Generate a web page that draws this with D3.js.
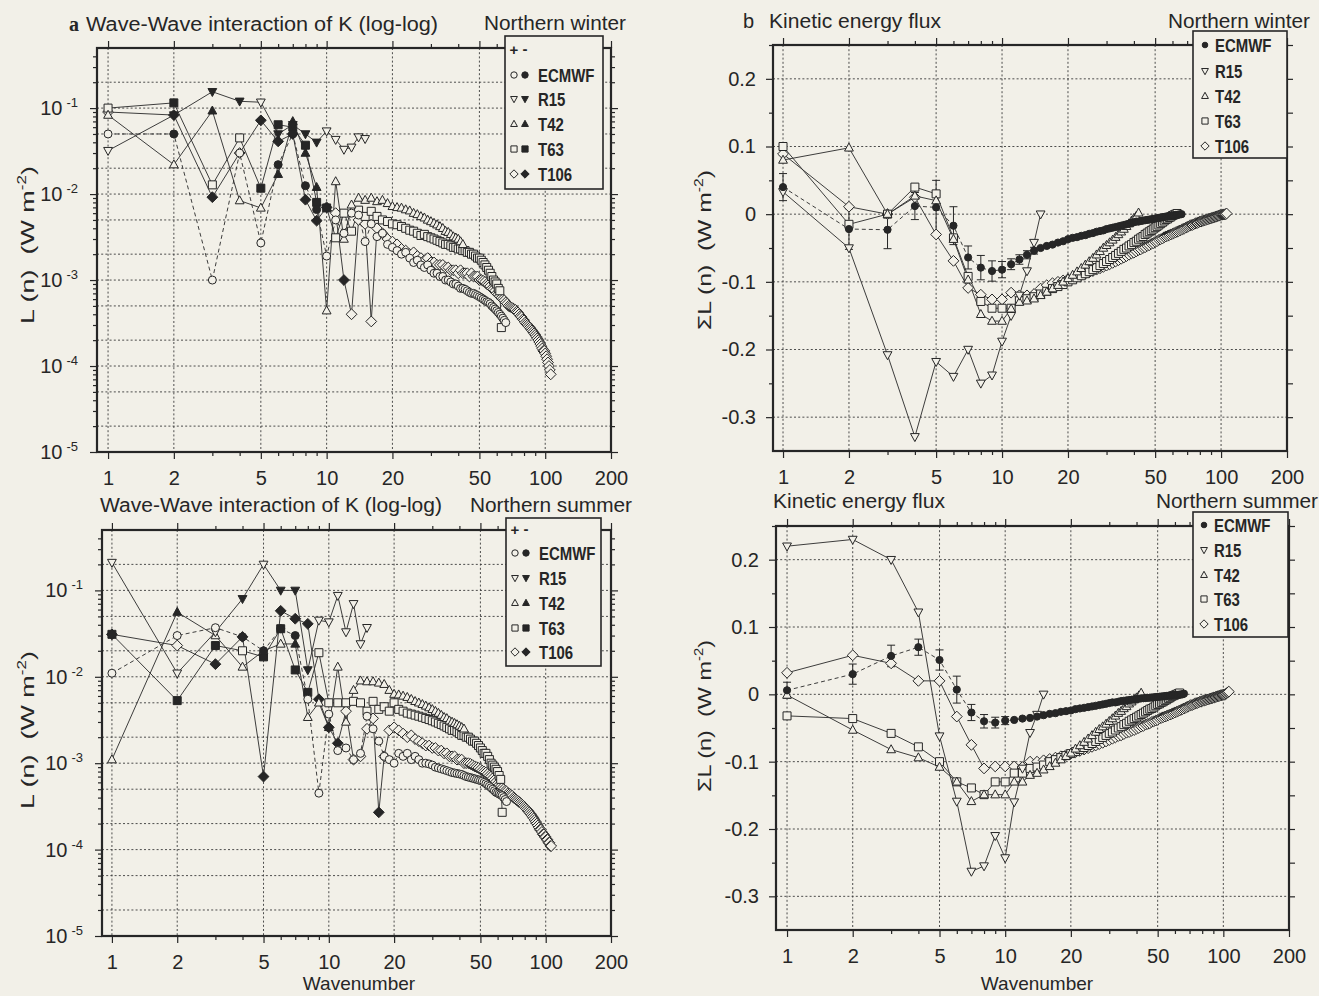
<!DOCTYPE html>
<html>
<head>
<meta charset="utf-8">
<script src="https://cdn.jsdelivr.net/npm/d3@7"></script>
<style>
  body { margin: 0; background: #f2f0e8; }
  svg { display: block; }
</style>
</head>
<body>
<svg id="fig" width="1319" height="996"></svg>
<script>
// values per wavenumber, index 0 is n = 1
// log-log panels keep the sign: negative values are drawn as |L| with a filled marker
const winterLogEcmwf = [0.05, -0.05, 0.001, 0.03, 0.0027, -0.022, -0.05, -0.0125, -0.0066, 0.0019,
  0.005, 0.0035, 0.006, 0.0057, 0.0028, 0.0045, 0.0032, 0.0035, 0.0026, 0.0024,
  0.0022, 0.002, 0.0021, 0.0018, 0.0016, 0.0017, 0.0015, 0.0014, 0.0015, 0.0013,
  0.0012, 0.0012, 0.0011, 0.0011, 0.001, 0.001, 0.00095, 0.0009, 0.0009, 0.00085,
  0.0008, 0.0008, 0.00078, 0.00075, 0.00072, 0.0007, 0.0007, 0.00068, 0.00066, 0.00064,
  0.00062, 0.0006, 0.00058, 0.00056, 0.00055, 0.00053, 0.0005, 0.00048, 0.00046, 0.00044,
  0.00042, 0.0004, 0.00038, 0.00036, 0.00034, 0.00032];
const winterLogR15 = [0.032, -0.083, -0.155, -0.12, 0.117, -0.05, -0.064, -0.05, -0.04, 0.054,
  0.043, 0.033, 0.035, 0.046, 0.044];
const winterLogT42 = [0.083, 0.022, -0.093, 0.0084, 0.0069, -0.017, -0.07, -0.03, -0.012, 0.00044,
  0.014, 0.003, 0.0075, 0.009, 0.0085, 0.009, 0.0082, 0.0085, 0.0078, 0.0072,
  0.007, 0.0069, 0.0066, 0.0064, 0.006, 0.0058, 0.0055, 0.0053, 0.005, 0.0048,
  0.0046, 0.0044, 0.0042, 0.004, 0.0037, 0.0036, 0.0034, 0.0032, 0.0031, 0.003,
  0.0028, 0.0026];
const winterLogT63 = [0.1, -0.115, 0.0128, 0.045, -0.0117, -0.064, -0.06, -0.037, -0.008, -0.0069,
  0.0031, 0.006, 0.0037, 0.0065, 0.0055, 0.0063, 0.0055, 0.005, 0.0048, 0.0045,
  0.0044, 0.0042, 0.004, 0.0038, 0.0037, 0.0035, 0.0033, 0.0034, 0.0032, 0.0031,
  0.003, 0.0029, 0.0028, 0.0027, 0.0026, 0.0026, 0.0025, 0.0024, 0.0024, 0.0023,
  0.0023, 0.0022, 0.0022, 0.0021, 0.0021, 0.002, 0.002, 0.0019, 0.0018, 0.0018,
  0.0017, 0.0016, 0.0015, 0.0014, 0.0013, 0.0012, 0.0011, 0.001, 0.00095, 0.0009,
  0.0008, 0.00075, 0.00028];
const winterLogT106 = [0.09, -0.083, -0.0092, 0.03, -0.072, -0.041, -0.05, -0.0086, -0.0049, -0.007,
  0.006, -0.001, 0.0004, 0.005, 0.0045, 0.00033, 0.004, 0.0035, 0.003, 0.0028,
  0.0026, 0.0023, 0.0022, 0.002, 0.0021, 0.0019, 0.0018, 0.0017, 0.0018, 0.0016,
  0.0016, 0.0015, 0.0015, 0.0015, 0.0014, 0.0014, 0.0013, 0.0013, 0.0013, 0.0012,
  0.0013, 0.0012, 0.0012, 0.0012, 0.0011, 0.0012, 0.0011, 0.0011, 0.0011, 0.001,
  0.001, 0.00098, 0.00095, 0.0009, 0.00088, 0.00085, 0.0008, 0.00078, 0.00075, 0.0007,
  0.00068, 0.00065, 0.00062, 0.0006, 0.00058, 0.00055, 0.00053, 0.0005, 0.00049, 0.00048,
  0.00047, 0.00046, 0.00045, 0.00043, 0.00042, 0.0004, 0.00038, 0.00037, 0.00035, 0.00034,
  0.00032, 0.00031, 0.0003, 0.00029, 0.00028, 0.00027, 0.00026, 0.00025, 0.00024, 0.00023,
  0.00022, 0.00021, 0.0002, 0.00019, 0.00018, 0.00017, 0.00016, 0.00015, 0.00015, 0.00014,
  0.00013, 0.00012, 0.00011, 0.0001, 0.00009, 0.00008];

const summerLogEcmwf = [0.011, 0.03, 0.037, -0.029, -0.02, -0.036, -0.03, 0.0055, 0.00045, 0.0037,
  0.0014, 0.0015, 0.0011, 0.0013, 0.0035, 0.0025, 0.0018, 0.0012, 0.0011, 0.001,
  0.0013, 0.0012, 0.0013, 0.0011, 0.0012, 0.0011, 0.001, 0.001, 0.00098, 0.00095,
  0.0009, 0.00088, 0.00086, 0.00084, 0.00082, 0.0008, 0.00078, 0.00077, 0.00076, 0.00075,
  0.00074, 0.00072, 0.0007, 0.00069, 0.00068, 0.00067, 0.00066, 0.00065, 0.00064, 0.00063,
  0.00062, 0.0006, 0.00058, 0.00056, 0.00054, 0.00052, 0.0005, 0.00048, 0.00046, 0.00045,
  0.00044, 0.00043, 0.00042, 0.0004, 0.00038, 0.00036];
const summerLogR15 = [0.21, 0.011, 0.033, -0.08, 0.2, -0.1, -0.1, -0.012, 0.045, 0.043,
  0.087, 0.033, 0.07, 0.024, 0.037];
const summerLogT42 = [0.0011, -0.056, 0.03, 0.013, 0.02, 0.024, -0.024, 0.0034, 0.005, -0.0026,
  0.013, 0.003, 0.007, 0.009, 0.0088, 0.0088, 0.0085, 0.0082, 0.007, 0.0063,
  0.0062, 0.006, 0.0058, 0.0055, 0.0052, 0.005, 0.0048, 0.0046, 0.0044, 0.0042,
  0.004, 0.0038, 0.0036, 0.0034, 0.0033, 0.0031, 0.003, 0.0029, 0.0028, 0.0027,
  0.0026, 0.0025];
const summerLogT63 = [-0.031, -0.0053, -0.023, 0.02, -0.017, -0.036, -0.012, -0.0066, 0.019, 0.005,
  0.005, 0.005, 0.0052, 0.005, 0.004, 0.0052, 0.0042, 0.0045, 0.004, 0.005,
  0.0042, 0.004, 0.0038, 0.0037, 0.0036, 0.0035, 0.0034, 0.0033, 0.0032, 0.0031,
  0.003, 0.0029, 0.0028, 0.0027, 0.0026, 0.0025, 0.0024, 0.0024, 0.0023, 0.0022,
  0.0021, 0.0021, 0.002, 0.002, 0.0019, 0.0018, 0.0018, 0.0017, 0.0016, 0.0015,
  0.0014, 0.0013, 0.0013, 0.0012, 0.0011, 0.001, 0.00095, 0.0009, 0.00085, 0.0008,
  0.00072, 0.00065, 0.00027];
const summerLogT106 = [-0.031, 0.023, -0.014, -0.029, -0.0007, -0.058, -0.047, -0.041, -0.0055, -0.0026,
  -0.0017, 0.004, 0.0011, 0.0012, 0.0025, 0.0033, -0.00027, 0.0012, 0.0024, 0.0026,
  0.0024, 0.0022, 0.002, 0.0021, 0.0019, 0.0018, 0.0017, 0.0016, 0.0016, 0.0015,
  0.0015, 0.0014, 0.0014, 0.0013, 0.0013, 0.0012, 0.0012, 0.0012, 0.0011, 0.0011,
  0.0011, 0.001, 0.001, 0.001, 0.00098, 0.00095, 0.00092, 0.0009, 0.00088, 0.00085,
  0.00082, 0.0008, 0.00078, 0.00075, 0.00072, 0.0007, 0.00067, 0.00064, 0.00061, 0.00058,
  0.00056, 0.00054, 0.00052, 0.0005, 0.00048, 0.00047, 0.00045, 0.00044, 0.00043, 0.00042,
  0.0004, 0.00039, 0.00038, 0.00037, 0.00036, 0.00035, 0.00034, 0.00033, 0.00032, 0.00031,
  0.0003, 0.00029, 0.00028, 0.00027, 0.00026, 0.00025, 0.00024, 0.00023, 0.00022, 0.00021,
  0.0002, 0.00019, 0.00018, 0.00017, 0.00017, 0.00016, 0.00015, 0.00015, 0.00014, 0.00014,
  0.00013, 0.00013, 0.00012, 0.00012, 0.00011, 0.00011];

// cumulative kinetic energy flux (W m-2)
const winterFluxEcmwf = [0.04, -0.022, -0.023, 0.012, 0.01, -0.017, -0.064, -0.079, -0.084, -0.082,
  -0.074, -0.067, -0.06, -0.054, -0.05, -0.047, -0.045, -0.042, -0.04, -0.037,
  -0.035, -0.034, -0.032, -0.031, -0.029, -0.028, -0.026, -0.025, -0.024, -0.022,
  -0.021, -0.02, -0.019, -0.018, -0.017, -0.016, -0.015, -0.014, -0.013, -0.012,
  -0.011, -0.011, -0.01, -0.0095, -0.009, -0.0085, -0.008, -0.0075, -0.007, -0.0065,
  -0.006, -0.0055, -0.005, -0.0045, -0.004, -0.0036, -0.0032, -0.0028, -0.0024, -0.002,
  -0.0016, -0.0012, -0.0009, -0.0006, -0.0003, 0.0];
const winterFluxEcmwfErr = [0.02, 0.03, 0.028, 0.02, 0.04, 0.028, 0.017, 0.018, 0.015, 0.012,
  0.008, 0.007, 0.006, 0.005];
const winterFluxR15 = [0.033, -0.05, -0.208, -0.329, -0.218, -0.24, -0.2, -0.25, -0.238, -0.188,
  -0.15, -0.12, -0.084, -0.042, 0.0];
const winterFluxT42 = [0.08, 0.098, 0.0, 0.027, 0.02, -0.037, -0.097, -0.148, -0.158, -0.158,
  -0.14, -0.13, -0.128, -0.125, -0.12, -0.115, -0.11, -0.105, -0.1, -0.095,
  -0.09, -0.085, -0.08, -0.075, -0.07, -0.065, -0.06, -0.055, -0.05, -0.046,
  -0.042, -0.038, -0.034, -0.03, -0.026, -0.022, -0.018, -0.014, -0.01, -0.006,
  -0.003, 0.002];
const winterFluxT63 = [0.1, -0.015, 0.0, 0.04, 0.03, -0.035, -0.092, -0.129, -0.139, -0.139,
  -0.139, -0.128, -0.125, -0.122, -0.118, -0.114, -0.11, -0.107, -0.104, -0.1,
  -0.097, -0.094, -0.091, -0.088, -0.085, -0.082, -0.079, -0.076, -0.073, -0.07,
  -0.067, -0.064, -0.061, -0.058, -0.055, -0.052, -0.05, -0.047, -0.045, -0.042,
  -0.04, -0.037, -0.035, -0.033, -0.03, -0.028, -0.026, -0.024, -0.022, -0.02,
  -0.018, -0.016, -0.014, -0.012, -0.01, -0.008, -0.007, -0.005, -0.004, -0.002,
  -0.001, 0.0, 0.001];
const winterFluxT106 = [0.089, 0.011, 0.0, 0.025, -0.03, -0.069, -0.109, -0.119, -0.126, -0.126,
  -0.116, -0.12, -0.12, -0.118, -0.11, -0.105, -0.102, -0.1, -0.098, -0.096,
  -0.094, -0.092, -0.09, -0.088, -0.086, -0.084, -0.082, -0.08, -0.078, -0.076,
  -0.074, -0.072, -0.07, -0.068, -0.066, -0.064, -0.062, -0.06, -0.058, -0.057,
  -0.055, -0.053, -0.052, -0.05, -0.049, -0.047, -0.046, -0.044, -0.043, -0.041,
  -0.04, -0.038, -0.037, -0.036, -0.034, -0.033, -0.032, -0.031, -0.03, -0.029,
  -0.028, -0.027, -0.026, -0.025, -0.024, -0.023, -0.022, -0.021, -0.02, -0.019,
  -0.018, -0.017, -0.016, -0.016, -0.015, -0.014, -0.013, -0.013, -0.012, -0.011,
  -0.011, -0.01, -0.0095, -0.009, -0.0085, -0.008, -0.0075, -0.007, -0.0065, -0.006,
  -0.0055, -0.005, -0.0045, -0.004, -0.0035, -0.003, -0.0025, -0.002, -0.0015, -0.001,
  -0.0008, -0.0006, -0.0004, -0.0002, 0.0, 0.001];

const summerFluxEcmwf = [0.006, 0.03, 0.057, 0.07, 0.051, 0.007, -0.027, -0.04, -0.042, -0.039,
  -0.038, -0.036, -0.035, -0.033, -0.031, -0.029, -0.028, -0.026, -0.025, -0.024,
  -0.022, -0.021, -0.02, -0.019, -0.018, -0.017, -0.016, -0.015, -0.014, -0.013,
  -0.012, -0.012, -0.011, -0.01, -0.0095, -0.009, -0.0085, -0.008, -0.0075, -0.007,
  -0.0065, -0.006, -0.0058, -0.0055, -0.0052, -0.005, -0.0047, -0.0044, -0.0041, -0.0038,
  -0.0035, -0.0032, -0.003, -0.0027, -0.0024, -0.0021, -0.0018, -0.0015, -0.0012, -0.001,
  -0.0008, -0.0006, -0.0004, -0.0002, 0.0, 0.001];
const summerFluxEcmwfErr = [0.012, 0.015, 0.016, 0.012, 0.015, 0.02, 0.012, 0.01, 0.008, 0.006];
const summerFluxR15 = [0.22, 0.23, 0.2, 0.122, -0.062, -0.159, -0.263, -0.255, -0.21, -0.243,
  -0.16, -0.11, -0.057, -0.03, 0.0];
const summerFluxT42 = [-0.001, -0.053, -0.082, -0.094, -0.108, -0.13, -0.159, -0.149, -0.149, -0.149,
  -0.13, -0.13, -0.12, -0.117, -0.112, -0.107, -0.102, -0.097, -0.092, -0.087,
  -0.081, -0.076, -0.071, -0.066, -0.061, -0.056, -0.052, -0.048, -0.044, -0.04,
  -0.036, -0.032, -0.028, -0.025, -0.021, -0.018, -0.014, -0.011, -0.008, -0.005,
  -0.002, 0.002];
const summerFluxT63 = [-0.032, -0.036, -0.058, -0.078, -0.1, -0.13, -0.139, -0.149, -0.13, -0.13,
  -0.117, -0.117, -0.11, -0.108, -0.105, -0.1, -0.097, -0.094, -0.091, -0.088,
  -0.085, -0.082, -0.079, -0.076, -0.073, -0.07, -0.067, -0.064, -0.061, -0.058,
  -0.056, -0.053, -0.05, -0.048, -0.045, -0.043, -0.04, -0.038, -0.036, -0.034,
  -0.032, -0.03, -0.028, -0.026, -0.024, -0.022, -0.021, -0.019, -0.017, -0.015,
  -0.014, -0.012, -0.011, -0.009, -0.008, -0.006, -0.005, -0.003, -0.002, -0.001,
  0.0, 0.001, 0.002];
const summerFluxT106 = [0.032, 0.058, 0.046, 0.02, 0.02, -0.033, -0.075, -0.11, -0.107, -0.107,
  -0.107, -0.108, -0.1, -0.1, -0.098, -0.096, -0.094, -0.092, -0.09, -0.088,
  -0.086, -0.084, -0.082, -0.08, -0.078, -0.076, -0.074, -0.072, -0.07, -0.068,
  -0.066, -0.064, -0.062, -0.061, -0.059, -0.057, -0.056, -0.054, -0.053, -0.051,
  -0.05, -0.048, -0.047, -0.045, -0.044, -0.043, -0.041, -0.04, -0.039, -0.038,
  -0.036, -0.035, -0.034, -0.033, -0.032, -0.031, -0.03, -0.029, -0.028, -0.027,
  -0.026, -0.025, -0.024, -0.023, -0.022, -0.021, -0.02, -0.019, -0.018, -0.017,
  -0.016, -0.016, -0.015, -0.014, -0.013, -0.013, -0.012, -0.011, -0.011, -0.01,
  -0.0095, -0.009, -0.0085, -0.008, -0.0075, -0.007, -0.0065, -0.006, -0.0055, -0.005,
  -0.0045, -0.004, -0.0035, -0.003, -0.0026, -0.0022, -0.0018, -0.0014, -0.001, -0.0006,
  -0.0003, 0.0, 0.001, 0.002, 0.003, 0.004];

const modelNames = ["ECMWF", "R15", "T42", "T63", "T106"];
const xTickValues = [1, 2, 5, 10, 20, 50, 100, 200];
const xMinorValues = [3, 4, 6, 7, 8, 9, 30, 40, 60, 70, 80, 90];
const xGridValues = [1, 2, 5, 10, 20, 50, 100];
const logTickValues = [1e-5, 1e-4, 1e-3, 1e-2, 1e-1];
const logMinorValues = [2e-5, 3e-5, 4e-5, 5e-5, 6e-5, 7e-5, 8e-5, 9e-5, 2e-4, 3e-4, 4e-4, 5e-4, 6e-4, 7e-4, 8e-4, 9e-4,
  2e-3, 3e-3, 4e-3, 5e-3, 6e-3, 7e-3, 8e-3, 9e-3, 2e-2, 3e-2, 4e-2, 5e-2, 6e-2, 7e-2, 8e-2, 9e-2, 2e-1, 3e-1, 4e-1];
const logGridValues = [2e-5, 5e-5, 1e-4, 2e-4, 5e-4, 1e-3, 2e-3, 5e-3, 1e-2, 2e-2, 5e-2, 1e-1, 2e-1];
const fluxTickValues = [0.2, 0.1, 0, -0.1, -0.2, -0.3];
const fluxTickLabels = ["0.2", "0.1", "0", "-0.1", "-0.2", "-0.3"];
const fluxMinorValues = [0.25, 0.15, 0.05, -0.05, -0.15, -0.25];
const fluxGridValues = [0.2, 0.1, 0, -0.1, -0.2, -0.3];

const BG = "#f2f0e8";
const INK = "#262626";
const FONT = "'Liberation Sans', Arial, Helvetica, sans-serif";
const shapes = ["circle", "down", "up", "square", "diamond"];

const svg = d3.select("#fig");
svg.append("rect").attr("width", 1319).attr("height", 996).attr("fill", BG);

function symbolPath(shape, s) {
  switch (shape) {
    case "circle": return `M${-s},0A${s},${s} 0 1,0 ${s},0A${s},${s} 0 1,0 ${-s},0Z`;
    case "square": return `M${-s},${-s}H${s}V${s}H${-s}Z`;
    case "diamond": { const d = s * 1.35; return `M0,${-d}L${d},0L0,${d}L${-d},0Z`; }
    case "up": return `M0,${-s * 1.2}L${s * 1.1},${s * 0.8}L${-s * 1.1},${s * 0.8}Z`;
    case "down": return `M0,${s * 1.2}L${s * 1.1},${-s * 0.8}L${-s * 1.1},${-s * 0.8}Z`;
  }
}

// squeeze/stretch a text to a given share of its natural width
function condense(sel, k) {
  sel.each(function () {
    const w = this.getComputedTextLength();
    d3.select(this).attr("textLength", w * k).attr("lengthAdjust", "spacingAndGlyphs");
  });
}

function tickStyle(sel) {
  sel.select(".domain").remove();
  sel.selectAll(".tick line").attr("stroke", INK).attr("stroke-width", 1.2);
  sel.selectAll(".tick text").attr("fill", INK).attr("font-size", 20).attr("font-family", FONT);
}

const panels = [
  { id: "a", log: true, left: 97, right: 611, top: 48, bottom: 452, xDomain: [0.89, 200], yDomain: [1e-5, 0.5],
    series: [winterLogEcmwf, winterLogR15, winterLogT42, winterLogT63, winterLogT106],
    legend: { left: 505, right: 603, top: 36, bottom: 189, rows: [50, 75, 99, 124, 149, 174], sym: [514, 525], textX: 538 },
    letter: { text: "a", x: 69, y: 31 },
    title: { text: "Wave-Wave interaction of K (log-log)", x: 86, y: 31, w: 352 },
    season: { text: "Northern winter", x: 626, y: 30, w: 142 },
    ylabel: { text: "L (n)", x: 34, y: 245, len: 158 } },
  { id: "b", log: false, left: 773, right: 1287, top: 45, bottom: 451, xDomain: [0.9, 200], yDomain: [-0.35, 0.25],
    series: [winterFluxEcmwf, winterFluxR15, winterFluxT42, winterFluxT63, winterFluxT106], errors: winterFluxEcmwfErr,
    legend: { left: 1193, right: 1287, top: 31, bottom: 158, rows: [45, 71, 96, 121, 146], sym: [1205], textX: 1215 },
    letter: { text: "b", x: 743, y: 28 },
    title: { text: "Kinetic energy flux", x: 769, y: 28, w: 172 },
    season: { text: "Northern winter", x: 1310, y: 28, w: 142 },
    ylabel: { text: "ΣL (n)", x: 711, y: 250, len: 160 } },
  { id: "c", log: true, left: 102, right: 611, top: 530, bottom: 936, xDomain: [0.9, 200], yDomain: [1e-5, 0.5],
    series: [summerLogEcmwf, summerLogR15, summerLogT42, summerLogT63, summerLogT106],
    legend: { left: 506, right: 601, top: 518, bottom: 666, rows: [530, 553, 578, 603, 628, 652], sym: [515, 526], textX: 539 },
    title: { text: "Wave-Wave interaction of K (log-log)", x: 100, y: 512, w: 342 },
    season: { text: "Northern summer", x: 632, y: 512, w: 162 },
    ylabel: { text: "L (n)", x: 34, y: 730, len: 158 },
    xlabel: { x: 359, y: 990 } },
  { id: "d", log: false, left: 776, right: 1289, top: 526, bottom: 930, xDomain: [0.89, 200], yDomain: [-0.35, 0.25],
    series: [summerFluxEcmwf, summerFluxR15, summerFluxT42, summerFluxT63, summerFluxT106], errors: summerFluxEcmwfErr,
    legend: { left: 1193, right: 1288, top: 512, bottom: 637, rows: [525, 550, 575, 599, 624], sym: [1204], textX: 1214 },
    title: { text: "Kinetic energy flux", x: 773, y: 508, w: 172 },
    season: { text: "Northern summer", x: 1318, y: 508, w: 162 },
    ylabel: { text: "ΣL (n)", x: 711, y: 716, len: 152 },
    xlabel: { x: 1037, y: 990 } }
];

function drawPanel(p) {
  const g = svg.append("g").attr("class", "panel-" + p.id);
  const x = d3.scaleLog().domain(p.xDomain).range([p.left, p.right]);
  const y = (p.log ? d3.scaleLog() : d3.scaleLinear()).domain(p.yDomain).range([p.bottom, p.top]);
  const yv = p.log ? (v => y(Math.abs(v))) : (v => y(v));

  // dotted grid
  const grid = g.append("g").attr("stroke", "#3a3a3a").attr("stroke-width", 0.9)
    .attr("stroke-dasharray", "2,2.2");
  grid.selectAll("line.gx").data(xGridValues).join("line").attr("class", "gx")
    .attr("x1", d => x(d)).attr("x2", d => x(d)).attr("y1", p.top).attr("y2", p.bottom);
  grid.selectAll("line.gy").data(p.log ? logGridValues : fluxGridValues).join("line").attr("class", "gy")
    .attr("x1", p.left).attr("x2", p.right).attr("y1", d => y(d)).attr("y2", d => y(d));

  const order = [4, 3, 2, 1, 0];
  const line = d3.line().x(d => x(d.n)).y(d => yv(d.v));
  const pts = p.series.map(arr => arr.map((v, k) => ({ n: k + 1, v })));

  // lines first
  order.forEach(i => {
    g.append("path").datum(pts[i])
      .attr("fill", "none").attr("stroke", "#333").attr("stroke-width", 0.95)
      .attr("stroke-dasharray", i === 0 ? "4,3" : null)
      .attr("d", line);
  });

  // error bars on the analysis
  if (p.errors) {
    const eb = p.errors.map((e, k) => ({ n: k + 1, v: p.series[0][k], e }));
    const eg = g.append("g").attr("stroke", INK).attr("stroke-width", 1);
    eg.selectAll("line.bar").data(eb).join("line").attr("class", "bar")
      .attr("x1", d => x(d.n)).attr("x2", d => x(d.n))
      .attr("y1", d => y(d.v - d.e)).attr("y2", d => y(d.v + d.e));
    eg.selectAll("line.capt").data(eb).join("line").attr("class", "capt")
      .attr("x1", d => x(d.n) - 4).attr("x2", d => x(d.n) + 4)
      .attr("y1", d => y(d.v + d.e)).attr("y2", d => y(d.v + d.e));
    eg.selectAll("line.capb").data(eb).join("line").attr("class", "capb")
      .attr("x1", d => x(d.n) - 4).attr("x2", d => x(d.n) + 4)
      .attr("y1", d => y(d.v - d.e)).attr("y2", d => y(d.v - d.e));
  }

  // markers
  order.forEach(i => {
    const shape = shapes[i];
    const size = shape === "circle" ? (p.log ? 4 : 3.6) : 4;
    g.append("g").selectAll("path").data(pts[i]).join("path")
      .attr("transform", d => `translate(${x(d.n)},${yv(d.v)})`)
      .attr("d", symbolPath(shape, size))
      .attr("fill", d => (p.log ? d.v < 0 : i === 0) ? INK : BG)
      .attr("stroke", INK).attr("stroke-width", 1);
  });

  // axes
  const ax = g.append("g");
  ax.append("g").attr("transform", `translate(0,${p.bottom})`)
    .call(d3.axisBottom(x).tickValues(xTickValues).tickFormat(d3.format("d")).tickSize(7).tickPadding(12))
    .call(tickStyle);
  ax.append("g").attr("transform", `translate(0,${p.bottom})`)
    .call(d3.axisBottom(x).tickValues(xMinorValues).tickFormat("").tickSize(4)).call(tickStyle);
  ax.append("g").attr("transform", `translate(0,${p.top})`)
    .call(d3.axisTop(x).tickValues(xTickValues).tickFormat("").tickSize(7)).call(tickStyle);
  ax.append("g").attr("transform", `translate(0,${p.top})`)
    .call(d3.axisTop(x).tickValues(xMinorValues).tickFormat("").tickSize(4)).call(tickStyle);

  if (p.log) {
    const left = ax.append("g").attr("transform", `translate(${p.left},0)`)
      .call(d3.axisLeft(y).tickValues(logTickValues).tickFormat(() => "").tickSize(7).tickPadding(12))
      .call(tickStyle);
    left.selectAll(".tick text").each(function (d) {
      const t = d3.select(this);
      t.append("tspan").text("10");
      t.append("tspan").attr("dx", 4).attr("dy", -8).attr("font-size", 13)
        .text(Math.round(Math.log10(d)));
    });
    ax.append("g").attr("transform", `translate(${p.left},0)`)
      .call(d3.axisLeft(y).tickValues(logMinorValues).tickFormat("").tickSize(4)).call(tickStyle);
    ax.append("g").attr("transform", `translate(${p.right},0)`)
      .call(d3.axisRight(y).tickValues(logTickValues).tickFormat("").tickSize(7)).call(tickStyle);
    ax.append("g").attr("transform", `translate(${p.right},0)`)
      .call(d3.axisRight(y).tickValues(logMinorValues).tickFormat("").tickSize(4)).call(tickStyle);
  } else {
    ax.append("g").attr("transform", `translate(${p.left},0)`)
      .call(d3.axisLeft(y).tickValues(fluxTickValues).tickFormat((d, i) => fluxTickLabels[i]).tickSize(7).tickPadding(10))
      .call(tickStyle);
    ax.append("g").attr("transform", `translate(${p.left},0)`)
      .call(d3.axisLeft(y).tickValues(fluxMinorValues).tickFormat("").tickSize(4)).call(tickStyle);
    ax.append("g").attr("transform", `translate(${p.right},0)`)
      .call(d3.axisRight(y).tickValues(fluxTickValues.concat(fluxMinorValues)).tickFormat("").tickSize(6))
      .call(tickStyle);
  }

  // frame
  g.append("rect").attr("x", p.left).attr("y", p.top)
    .attr("width", p.right - p.left).attr("height", p.bottom - p.top)
    .attr("fill", "none").attr("stroke", INK).attr("stroke-width", 2.2);

  drawLegend(g, p);

  // titles
  const txt = g.append("g").attr("font-family", FONT).attr("fill", INK);
  if (p.letter) {
    txt.append("text").attr("x", p.letter.x).attr("y", p.letter.y)
      .attr("font-family", p.id === "a" ? "'Liberation Serif', serif" : FONT)
      .attr("font-weight", p.id === "a" ? "bold" : "normal")
      .attr("font-size", 20).text(p.letter.text);
  }
  txt.append("text").attr("x", p.title.x).attr("y", p.title.y).attr("font-size", 20)
    .attr("textLength", p.title.w).attr("lengthAdjust", "spacingAndGlyphs").text(p.title.text);
  txt.append("text").attr("x", p.season.x - p.season.w).attr("y", p.season.y).attr("font-size", 20)
    .attr("textLength", p.season.w).attr("lengthAdjust", "spacingAndGlyphs").text(p.season.text);

  // y axis label, stretched along its own direction
  const yl = txt.append("text").attr("font-size", 19).attr("text-anchor", "middle");
  yl.append("tspan").text(p.ylabel.text + "\u00a0\u00a0(W m");
  yl.append("tspan").attr("dy", -8).attr("font-size", 12).text("-2");
  yl.append("tspan").attr("dy", 8).text(")");
  const natural = yl.node().getComputedTextLength();
  yl.attr("transform", `translate(${p.ylabel.x},${p.ylabel.y}) rotate(-90) scale(${p.ylabel.len / natural},1)`);

  if (p.xlabel) {
    txt.append("text").attr("x", p.xlabel.x).attr("y", p.xlabel.y).attr("font-size", 19)
      .attr("text-anchor", "middle").text("Wavenumber");
  }
}

function drawLegend(g, p) {
  const L = p.legend;
  const lg = g.append("g").attr("font-family", FONT).attr("fill", INK);
  lg.append("rect").attr("x", L.left).attr("y", L.top)
    .attr("width", L.right - L.left).attr("height", L.bottom - L.top)
    .attr("fill", BG).attr("stroke", INK).attr("stroke-width", 1.6);
  let rows = L.rows;
  if (p.log) {
    lg.append("text").attr("x", L.sym[0]).attr("y", rows[0] + 5).attr("text-anchor", "middle")
      .attr("font-size", 15).attr("font-weight", "bold").text("+");
    lg.append("text").attr("x", L.sym[1]).attr("y", rows[0] + 4).attr("text-anchor", "middle")
      .attr("font-size", 15).attr("font-weight", "bold").text("-");
    rows = rows.slice(1);
  }
  modelNames.forEach((name, i) => {
    const yy = rows[i];
    const s = shapes[i] === "circle" ? 3.2 : 3.1;
    if (p.log) {
      lg.append("path").attr("transform", `translate(${L.sym[0]},${yy})`).attr("d", symbolPath(shapes[i], s))
        .attr("fill", BG).attr("stroke", INK).attr("stroke-width", 1);
      lg.append("path").attr("transform", `translate(${L.sym[1]},${yy})`).attr("d", symbolPath(shapes[i], s))
        .attr("fill", INK).attr("stroke", INK).attr("stroke-width", 1);
    } else {
      lg.append("path").attr("transform", `translate(${L.sym[0]},${yy})`).attr("d", symbolPath(shapes[i], i === 0 ? 2.8 : s))
        .attr("fill", i === 0 ? INK : BG).attr("stroke", INK).attr("stroke-width", 1);
    }
    lg.append("text").attr("x", L.textX).attr("y", yy + 6.5)
      .attr("font-size", 18).attr("font-weight", "bold").text(name)
      .call(condense, 0.83);
  });
}

panels.forEach(drawPanel);
</script>
</body>
</html>
